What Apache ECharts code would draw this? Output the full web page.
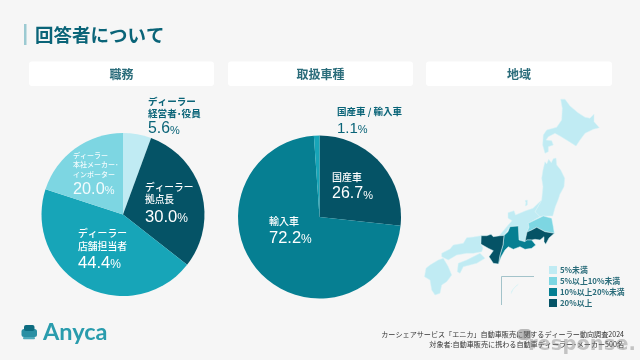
<!DOCTYPE html>
<html><head><meta charset="utf-8">
<style>html,body{margin:0;padding:0;background:#f6f6f6}#c{width:640px;height:360px}</style>
<script src="https://cdn.jsdelivr.net/npm/echarts@6/dist/echarts.min.js"></script>
</head><body><div id="c"></div>
<script>
// ---- data ----
const jobNames = ['ディーラー\n経営者･役員','ディーラー\n拠点長','ディーラー\n店舗担当者','ディーラー\n本社メーカー･\nインポーター'];
const jobValues = [5.6,30.0,44.4,20.0];
const carNames = ['国産車','輸入車','国産車 / 輸入車'];
const carValues = [26.7,72.2,1.1];
const panelTitles = ['職務','取扱車種','地域'];
const tierLabels = ['5%未満','5%以上10%未満','10%以上20%未満','20%以上'];
const regionNames = ['北海道','東北','中部北','佐渡','関東','東海東','中部','近畿','中国','四国','九州','沖縄'];
const regionTiers = [0,0,0,0,1,3,2,3,0,0,0,0];
const title = '回答者について';
const footLines = ['カーシェアサービス「エニカ」自動車販売に関するディーラー動向調査2024','対象者:自動車販売に携わる自動車ディーラー･メーカー500名'];
// map outlines
const outlineHokkaido=[[560.7,99.3],[565,99.3],[570,106],[578,112.7],[585,117.3],[590,118.3],[594,114.3],[594,121.7],[599.3,127.7],[593.3,129.3],[585,133.3],[580,140],[576,146],[569.3,141.7],[560,136],[555,133.3],[548.3,136.7],[546,140],[551.7,140.7],[553.3,145],[548.3,146.7],[548.3,151.7],[545,153.3],[542.7,145],[543.3,135],[546.7,130],[556.7,127.3],[561.7,120],[562.3,108.3]];
const outlineTohoku=[[545,161.7],[546.7,164],[548.7,159.3],[551.3,162.7],[553.3,158.7],[556,158],[556.7,165],[560.7,170],[564.7,178.3],[564,186.7],[560,194],[558.3,199.3],[555.3,206.7],[552.7,216],[543.3,216],[540,216.7],[535,211.7],[541.7,200],[543,186.7],[541.7,178.3],[543,170]];
const outlineChubuN=[[499.5,235.5],[506.7,226.7],[512,220.7],[508,218],[508,212.7],[514,210.7],[515.5,215],[525,211],[533,208.3],[541.7,200],[535,211.7],[540,216.7],[528.3,223.3],[529,227.3],[527,232],[525,241.7],[519,240],[518.3,226],[510,226.7],[504,235.5]];
const outlineSado=[[525,200.7],[527.3,200],[527.3,205],[525.3,206],[526,202.7]];
const outlineKanto=[[528.3,223.3],[535,220],[543.3,216],[551.7,218.3],[553.3,226.7],[554.3,233.3],[545,231.7],[536.7,227.3],[531.7,230],[527,232],[529,227.3]];
const outlineTokaiE=[[527,232],[531.7,230],[536.7,227.3],[545,231.7],[554.3,233.3],[549,238],[545.7,244.3],[544,241.7],[544,236.7],[540,240],[535,239.3],[531.7,240],[526.7,240],[525,241.7],[526,236.7]];
const outlineChubu=[[504,235.5],[508,231.7],[510,226.7],[518.3,226],[519,240],[525,241.7],[526.7,240],[531.7,240],[535.7,245],[531.7,248.3],[525,249.3],[520,246.7],[513.3,249.3],[508.3,246.7],[505,250],[501,257],[498.5,264],[500,255],[503,245]];
const outlineKinki=[[481,235.7],[486.7,235.7],[491,234.3],[493.3,236.7],[500,235.7],[504,235.5],[503,245],[500,255],[498.5,264],[493.3,263.3],[489,256.7],[493.3,250.7],[488.3,248.3],[480.7,244]];
const outlineChugoku=[[441.7,256.7],[441.7,253.3],[450,249],[453.3,245],[463.3,243.3],[466.7,237.7],[473.3,237],[481,235.7],[480.7,244],[483,248],[481.7,251.7],[473.3,253.3],[466.7,253.3],[456.7,255],[448.3,260]];
const outlineShikoku=[[457.3,271.7],[458.3,263.3],[466.7,260],[480,253.3],[485,258.3],[476.7,263.3],[470,265],[463.3,266.7],[460,273.3]];
const outlineKyushu=[[430,265],[438.3,260],[443.3,258.3],[448.3,266.7],[451.7,275],[446.7,281.7],[441.7,285],[440,293.3],[435,295],[431.7,290],[430,280],[424.5,276.7],[426,268.3]];
const outlineOkinawa=[[511.7,291],[516,286],[518.3,284.3],[513.5,288.5],[511.2,293.5]];
const regionOutlines=[outlineHokkaido,outlineTohoku,outlineChubuN,outlineSado,outlineKanto,outlineTokaiE,outlineChubu,outlineKinki,outlineChugoku,outlineShikoku,outlineKyushu,outlineOkinawa];

// ---- layout & style ----
const FONT='"Liberation Sans","Noto Sans CJK JP",sans-serif';
const JP='"Noto Sans CJK JP",sans-serif';
const DARK='#0a6478';
const tierColors=['#c0ebf3','#7dd6e2','#067f92','#055366'];
const jobColors=['#c0ebf3','#055366','#17a5b8','#7dd6e2'];
const carColors=['#055366','#067f92','#17a5b8'];
const jobPos=[[148,96],[145,181],[78,227],[73,150.5]];
const carPos=[[332,171],[269,215],[337,105]];

function richFor(color,jpSize,jpWeight,numSize,lh,gap){return {
  jp:{fontFamily:JP,fontSize:jpSize,fontWeight:jpWeight,color,lineHeight:lh},
  num:{fontFamily:FONT,fontSize:numSize,color,lineHeight:gap,verticalAlign:'bottom'},
  pct:{fontFamily:FONT,fontSize:Math.round(numSize*0.7),color,lineHeight:gap,verticalAlign:'bottom',padding:[0,0,1,0]}
};}
function itemsFor(names,values,colors,styles){
  return values.map((v,i)=>({
    name:names[i],value:v,itemStyle:{color:colors[i]},
    label:{show:true,position:'inside',align:'left',verticalAlign:'top',
      formatter:names[i].split('\n').map(s=>`{jp|${s}}`).join('\n')+`\n{num|${v.toFixed(1)}}{pct|%}`,
      rich:styles[i]}
  }));
}
const jobStyles=[richFor(DARK,9.6,700,15.8,11.5,18),richFor('#fff',9.7,500,16.6,12.5,19.3),richFor('#fff',9.8,500,16.6,13,18.3),richFor('#f2fbfd',7,500,16.3,9.5,18.2)];
const carStyles=[richFor('#fff',10,500,16,12,19),richFor('#fff',10,500,16.5,12,19.3),richFor(DARK,9.5,700,15,12,19.5)];

function pie(center,items,pos){return {
  type:'pie',center,radius:[0,81.5],startAngle:90,clockwise:true,silent:true,
  avoidLabelOverlap:false,labelLine:{show:false},data:items,
  emphasis:{disabled:true},
  labelLayout:p=>({x:pos[p.dataIndex][0],y:pos[p.dataIndex][1],align:'left',verticalAlign:'top',hideOverlap:false})
};}

// map built from outlines, y flipped because geo "latitude" goes upward
const features=regionNames.map((n,i)=>({type:'Feature',properties:{name:n},
  geometry:{type:'Polygon',coordinates:[regionOutlines[i].map(([x,y])=>[x,-y])]}}));
echarts.registerMap('jp',{type:'FeatureCollection',features});
const allPts=regionOutlines.flat();
const xs=allPts.map(p=>p[0]),ys=allPts.map(p=>p[1]);
const x0=Math.min(...xs),x1=Math.max(...xs),y0=Math.min(...ys),y1=Math.max(...ys);

const cards=[[29,61.5,185],[228,61.5,185],[426,61.5,186]];
const gr=[
  {type:'rect',shape:{x:24,y:24,width:2.5,height:21},style:{fill:'#9ccad2'}},
  {type:'text',style:{x:35,y:34.5,text:title,font:'700 18.5px '+JP,fill:'#0a6478',textVerticalAlign:'middle'}},
  ...cards.map((c,i)=>({type:'group',children:[
    {type:'rect',shape:{x:c[0],y:c[1],width:c[2],height:24.5,r:3},style:{fill:'#fff'}},
    {type:'text',style:{x:c[0]+c[2]/2,y:c[1]+12.5,text:panelTitles[i],font:'700 12px '+JP,fill:'#2a6c7a',textAlign:'center',textVerticalAlign:'middle'}}
  ]})),
  {type:'polyline',shape:{points:[[501.5,305],[501.5,276.5],[534,276.5]]},style:{stroke:'#a3c3ca',fill:null,lineWidth:1}},
  // logo
  {type:'rect',shape:{x:21.5,y:329,width:15.5,height:8,r:2.5},style:{fill:'#2a8fa3'}},
  {type:'rect',shape:{x:24,y:325,width:10.5,height:6,r:2},style:{fill:'#0d6c80'}},
  {type:'rect',shape:{x:23,y:337,width:12,height:2.2,r:1},style:{fill:'#4fa9ba'}},
  {type:'text',style:{x:43,y:332,text:'Anyca',font:'700 23.5px Lato,"Open Sans",sans-serif',fill:'#2a9cad',textVerticalAlign:'middle'}},
  // source
  {type:'text',style:{x:624,y:334,text:footLines[0],font:'400 7.1px '+JP,fill:'#333',textAlign:'right',textVerticalAlign:'middle'}},
  {type:'text',style:{x:624,y:344,text:footLines[1],font:'400 7.1px '+JP,fill:'#333',textAlign:'right',textVerticalAlign:'middle'}},
  // watermark
  {type:'text',style:{x:528,y:344.5,text:'response.',font:'700 19.5px "DejaVu Sans",sans-serif',fill:'rgba(120,120,120,0.4)',textVerticalAlign:'middle'}},
  {type:'rect',shape:{x:517,y:329,width:15,height:11,r:5},style:{fill:'rgba(110,110,110,0.45)'}}
];

const chart=echarts.init(document.getElementById('c'),null,{renderer:'canvas'});
chart.setOption({
  animation:false,backgroundColor:'#f6f6f6',
  graphic:gr,
  visualMap:{type:'piecewise',seriesIndex:2,left:546,top:264,orient:'vertical',inverse:true,align:'left',
    itemWidth:8,itemHeight:8,itemGap:3,itemSymbol:'rect',selectedMode:false,hoverLink:false,
    pieces:tierLabels.map((l,i)=>({value:i,label:l,color:tierColors[i]})),
    textGap:3,textStyle:{fontFamily:JP,fontSize:7.8,fontWeight:700,color:'#2a6c7a'},padding:[2,2,2,3]},
  series:[
    pie([123,214.5],itemsFor(jobNames,jobValues,jobColors,jobStyles),jobPos),
    pie([319.5,217],itemsFor(carNames,carValues,carColors,carStyles),carPos),
    {type:'map',map:'jp',aspectScale:1,silent:true,roam:false,
     layoutCenter:[(x0+x1)/2,(y0+y1)/2],layoutSize:Math.max(x1-x0,y1-y0),
     label:{show:false},emphasis:{disabled:true},
     itemStyle:{borderColor:'#d9f2f6',borderWidth:0.5},
     data:regionNames.map((n,i)=>({name:n,value:regionTiers[i]}))}
  ]
});
</script></body></html>
